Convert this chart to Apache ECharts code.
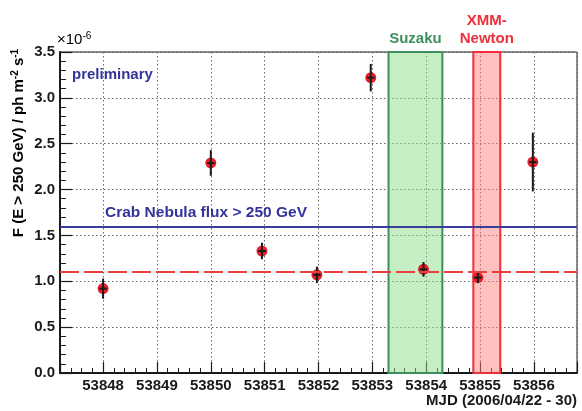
<!DOCTYPE html>
<html>
<head>
<meta charset="utf-8">
<script src="https://cdn.jsdelivr.net/npm/echarts@6/dist/echarts.min.js"></script>
<style>
html,body{margin:0;padding:0;background:#fff;}
#chart{width:582px;height:411px;}
</style>
</head>
<body>
<div id="chart"></div>
<script>
// ---- data ----
const mjd      = [53848.00, 53850.00, 53850.95, 53851.97, 53852.97, 53853.95, 53854.96, 53855.98];
const flux     = [0.92, 2.29, 1.33, 1.07, 3.22, 1.13, 1.04, 2.30];
const fluxErr  = [0.11, 0.14, 0.09, 0.09, 0.15, 0.08, 0.06, 0.32];
const mjdErr   = [0.07, 0.07, 0.07, 0.07, 0.07, 0.07, 0.07, 0.07];
const suzakuWindow = [53853.30, 53854.30];
const xmmWindow    = [53854.875, 53855.375];
const crabFlux = 1.6;
const meanFlux = 1.1;
const xRange = [53847.2, 53856.8];
const yRange = [0, 3.5];
const yStep = 0.5;

const FONT = '"Liberation Sans", Arial, Helvetica, sans-serif';
const INK = '#1a1a1a';

const points = mjd.map((x, i) => [x, flux[i], fluxErr[i], mjdErr[i]]);

const chart = echarts.init(document.getElementById('chart'), null, {renderer: 'canvas'});

const option = {
  animation: false,
  backgroundColor: '#fff',
  grid: {left: 60, right: 5, top: 52, bottom: 38, show: true, borderColor: INK, borderWidth: 1},
  xAxis: {
    type: 'value', min: xRange[0], max: xRange[1], splitNumber: 9,
    axisLine: {show: true, onZero: false, lineStyle: {color: INK, width: 2}},
    axisTick: {show: true, inside: true, length: 11, lineStyle: {color: INK, width: 1.2}},
    minorTick: {show: true, splitNumber: 5, length: 5, lineStyle: {color: INK, width: 1}},
    splitLine: {show: true, lineStyle: {color: '#666', type: [1.5, 2.5], width: 1}},
    axisLabel: {
      showMinLabel: false, showMaxLabel: false, margin: 5,
      fontFamily: FONT, fontSize: 15, fontWeight: 'bold', color: INK,
      formatter: v => String(Math.round(v))
    }
  },
  yAxis: {
    type: 'value', min: yRange[0], max: yRange[1], interval: yStep,
    axisLine: {show: true, onZero: false, lineStyle: {color: INK, width: 2}},
    axisTick: {show: true, inside: true, length: 12, lineStyle: {color: INK, width: 1.2}},
    minorTick: {show: true, splitNumber: 5, length: 6, lineStyle: {color: INK, width: 1}},
    splitLine: {show: true, lineStyle: {color: '#666', type: [1.5, 2.5], width: 1}},
    axisLabel: {
      margin: 5, fontFamily: FONT, fontSize: 15, fontWeight: 'bold', color: INK,
      formatter: v => v.toFixed(1)
    }
  },
  series: [
    {
      name: 'windows', type: 'scatter', data: [], z: 1,
      markArea: {
        silent: true,
        data: [
          [{name: 'Suzaku', xAxis: suzakuWindow[0], yAxis: yRange[0],
            itemStyle: {color: 'rgba(139,221,139,0.5)', borderColor: '#3f8f5e', borderWidth: 2},
            label: {color: '#3f8f5e'}},
           {xAxis: suzakuWindow[1], yAxis: yRange[1]}],
          [{name: 'XMM-\nNewton', xAxis: xmmWindow[0], yAxis: yRange[0],
            itemStyle: {color: 'rgba(255,129,129,0.5)', borderColor: '#ee2e3a', borderWidth: 2},
            label: {color: '#ee2e3a'}},
           {xAxis: xmmWindow[1], yAxis: yRange[1]}]
        ],
        label: {
          show: true, position: 'top', distance: 3,
          fontFamily: FONT, fontSize: 15, fontWeight: 'bold', lineHeight: 18, align: 'center'
        }
      }
    },
    {
      name: 'levels', type: 'scatter', data: [], z: 2,
      markLine: {
        silent: true, symbol: 'none', label: {show: false},
        data: [
          {yAxis: crabFlux, lineStyle: {color: '#3a3d98', width: 2, type: 'solid'}},
          {yAxis: meanFlux, lineStyle: {color: '#e84040', width: 2, type: [19, 5]}}
        ]
      }
    },
    {
      name: 'flux', type: 'scatter', z: 3,
      data: points,
      symbol: 'circle', symbolSize: 11,
      itemStyle: {color: '#e8202a', opacity: 1},
      encode: {x: 0, y: 1}
    },
    {
      name: 'errors', type: 'custom', z: 4,
      data: points,
      encode: {x: 0, y: 1},
      renderItem: function (params, api) {
        const x = api.value(0), y = api.value(1), e = api.value(2), ex = api.value(3);
        const top = api.coord([x, y + e]);
        const bot = api.coord([x, y - e]);
        const l = api.coord([x - ex, y]);
        const r = api.coord([x + ex, y]);
        return {
          type: 'group',
          children: [
            {type: 'line', shape: {x1: top[0], y1: top[1], x2: bot[0], y2: bot[1]}, style: {stroke: INK, lineWidth: 2}},
            {type: 'line', shape: {x1: l[0], y1: l[1], x2: r[0], y2: r[1]}, style: {stroke: INK, lineWidth: 2}}
          ]
        };
      }
    }
  ],
  graphic: [
    {type: 'text', x: 57, y: 40, z: 10, style: {
      text: '{a|×10}{s|-6}', textVerticalAlign: 'middle', textAlign: 'left',
      rich: {a: {fontFamily: FONT, fontSize: 15, color: INK, lineHeight: 18},
             s: {fontFamily: FONT, fontSize: 10, color: INK, verticalAlign: 'top'}}
    }},
    {type: 'text', x: 19, y: 143, rotation: Math.PI / 2, z: 10, style: {
      text: '{a|F (E > 250 GeV) / ph m}{s|-2}{a| s}{s|-1}', textAlign: 'center', textVerticalAlign: 'middle',
      rich: {a: {fontFamily: FONT, fontSize: 15, fontWeight: 'bold', color: INK, lineHeight: 18},
             s: {fontFamily: FONT, fontSize: 10, fontWeight: 'bold', color: INK, verticalAlign: 'top'}}
    }},
    {type: 'text', x: 577, y: 401, z: 10, style: {
      text: 'MJD (2006/04/22 - 30)', textAlign: 'right', textVerticalAlign: 'middle',
      fontFamily: FONT, fontSize: 15, fontWeight: 'bold', fill: INK
    }},
    {type: 'text', x: 72, y: 75, z: 10, style: {
      text: 'preliminary', textAlign: 'left', textVerticalAlign: 'middle',
      fontFamily: FONT, fontSize: 15, fontWeight: 'bold', fill: '#33339a'
    }},
    {type: 'text', x: 105, y: 213, z: 10, style: {
      text: 'Crab Nebula flux > 250 GeV', textAlign: 'left', textVerticalAlign: 'middle',
      fontFamily: FONT, fontSize: 15.5, fontWeight: 'bold', fill: '#33339a'
    }}
  ]
};

chart.setOption(option);
</script>
</body>
</html>
